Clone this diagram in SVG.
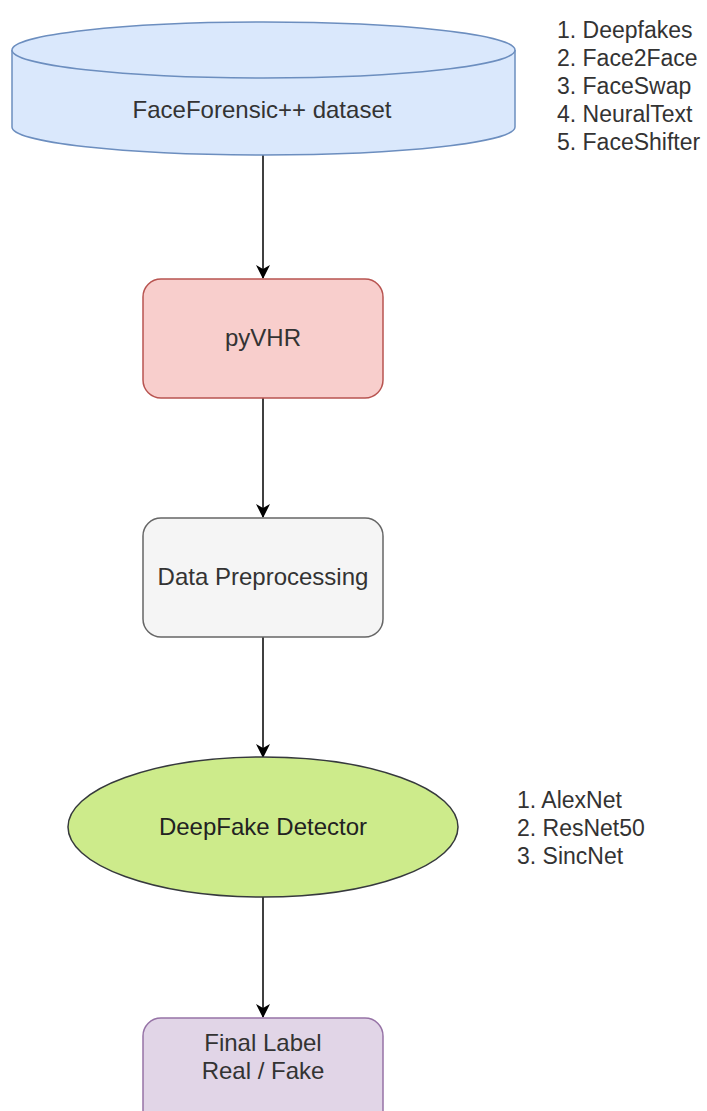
<svg xmlns="http://www.w3.org/2000/svg" width="707" height="1111" viewBox="0 0 707 1111">
<style>
text{font-family:"Liberation Sans",Arial,sans-serif;font-size:24px;fill:#333333}
.c{text-anchor:middle}
.l{font-size:23px}
.edge{stroke:#000;stroke-width:1.5;fill:none;marker-end:url(#arr)}
</style>
<defs>
<marker id="arr" viewBox="0 0 14 14" refX="13" refY="7" markerWidth="14" markerHeight="14" markerUnits="userSpaceOnUse" orient="auto">
<path d="M0,0 L14,7 L0,14 L4,7 Z" fill="#000"/>
</marker>
</defs>
<rect width="707" height="1111" fill="#ffffff"/>
<g id="connectors">
<line class="edge" x1="263" y1="155" x2="263" y2="278"/>
<line class="edge" x1="263" y1="398" x2="263" y2="517"/>
<line class="edge" x1="263" y1="637" x2="263" y2="757"/>
<line class="edge" x1="263" y1="897" x2="263" y2="1017"/>
</g>
<g id="dataset">
<path d="M12,50 L12,127 A251.5,28 0 0 0 515,127 L515,50" fill="#dae8fc" stroke="#6c8ebf" stroke-width="1.5"/>
<ellipse cx="263.5" cy="50" rx="251.5" ry="28" fill="#dae8fc" stroke="#6c8ebf" stroke-width="1.5"/>
<text class="c" x="262" y="118">FaceForensic++ dataset</text>
</g>
<g id="datasets-list">
<text class="l" x="557" y="38">1. Deepfakes</text>
<text class="l" x="557" y="66">2. Face2Face</text>
<text class="l" x="557" y="94">3. FaceSwap</text>
<text class="l" x="557" y="122">4. NeuralText</text>
<text class="l" x="557" y="150">5. FaceShifter</text>
</g>
<g id="pyvhr">
<rect x="143" y="279" width="240" height="119" rx="18" fill="#f8cecc" stroke="#b85450" stroke-width="1.5"/>
<text class="c" x="263" y="346">pyVHR</text>
</g>
<g id="preprocessing">
<rect x="143" y="518" width="240" height="119" rx="18" fill="#f5f5f5" stroke="#666666" stroke-width="1.5"/>
<text class="c" x="263" y="585">Data Preprocessing</text>
</g>
<g id="detector">
<ellipse cx="263" cy="827" rx="195" ry="70" fill="#cdeb8b" stroke="#36393d" stroke-width="1.5"/>
<text class="c" x="263" y="835" style="fill:#222222">DeepFake Detector</text>
</g>
<g id="models-list">
<text class="l" x="517" y="808">1. AlexNet</text>
<text class="l" x="517" y="836">2. ResNet50</text>
<text class="l" x="517" y="864">3. SincNet</text>
</g>
<g id="final">
<rect x="143" y="1018" width="240" height="119" rx="18" fill="#e1d5e7" stroke="#9673a6" stroke-width="1.5"/>
<text class="c" x="263" y="1051">Final Label</text>
<text class="c" x="263" y="1079">Real / Fake</text>
</g>
</svg>
